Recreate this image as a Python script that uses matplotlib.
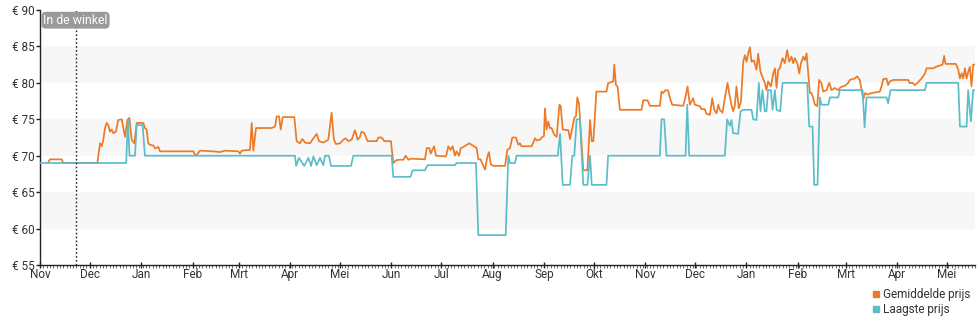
import numpy as np
import pandas as pd
import matplotlib
matplotlib.use("Agg")
import matplotlib.pyplot as plt
import matplotlib.dates as mdates
from matplotlib.lines import Line2D

plt.rcParams['font.family'] = ['Roboto', 'DejaVu Sans']

# day offsets from 1 Nov 2022 and prices in euro
start = pd.Timestamp('2022-11-01')

gem_dagen = [5, 6, 13.1, 14.1, 34.6, 36.2, 37.2, 38.2, 39.2, 40.2, 41.2, 42.2, 43.2, 44.2, 45.8,
             47.2, 49.3, 50.3, 51.3, 52.7, 53.9, 55.3, 56.9, 58.3, 62.3, 63.3, 64.3, 65.3, 66.3,
             68.4, 69.4, 71.4, 72.4, 92.5, 93.5, 94.5, 96.5, 104.5, 108.6, 111.6, 119.6, 120.6,
             121.7, 126.7, 127.7, 128.7, 130.3, 139.7, 141.8, 142.8, 144.2, 145.2, 146.4, 153.4,
             154.8, 156.8, 158.2, 159.9, 162.9, 164.3, 166.9, 168.3, 170.9, 173.9, 175.9, 177.3,
             178.5, 181.0, 183.0, 184.4, 186.0, 188.0, 190.0, 191.6, 193.0, 194.0, 195.6, 197.6,
             203.1, 204.1, 206.1, 207.7, 211.7, 213.1, 215.1, 217.1, 219.2, 220.6, 222.2, 224.2,
             232.2, 233.3, 234.9, 235.7, 237.7, 238.9, 244.9, 246.3, 247.7, 248.9, 250.3, 251.3,
             252.8, 253.8, 255.4, 257.4, 259.0, 260.4, 262.4, 263.4, 264.4, 265.8, 267.0, 268.4,
             269.8, 270.8, 271.9, 273.5, 280.5, 281.9, 283.5, 284.9, 287.1, 288.5, 289.5, 290.5,
             296.6, 298.6, 299.6, 301.6, 302.6, 304.0, 304.6, 305.6, 306.6, 307.6, 308.6, 310.1,
             311.7, 313.3, 314.1, 315.3, 318.7, 319.7, 321.1, 322.3, 323.3, 324.1, 325.1, 326.7,
             327.7, 330.2, 331.8, 332.8, 333.8, 335.6, 341.7, 342.7, 345.8, 346.4, 347.4, 348.4,
             349.8, 362.8, 363.9, 366.5, 367.9, 373.9, 374.9, 375.9, 377.3, 378.9, 379.9, 381.3,
             388.0, 389.4, 390.6, 392.0, 394.0, 395.0, 398.0, 399.0, 401.0, 402.0, 404.1, 405.5,
             406.7, 408.1, 409.1, 410.1, 411.7, 413.1, 414.7, 415.7, 417.1, 418.1, 419.1, 420.1,
             421.5, 422.8, 424.2, 425.2, 426.2, 427.2, 428.2, 429.2, 430.6, 432.2, 433.2, 434.6,
             435.6, 437.2, 438.2, 439.2, 440.9, 442.3, 443.3, 444.3, 445.3, 446.3, 447.9, 449.3,
             450.7, 451.9, 453.3, 454.3, 455.3, 456.8, 458.0, 459.0, 460.4, 461.4, 462.4, 463.4,
             464.4, 465.4, 466.4, 467.4, 468.8, 470.0, 471.4, 472.4, 474.4, 476.1, 477.5, 479.5,
             481.5, 482.9, 485.5, 487.5, 488.5, 491.5, 492.9, 494.5, 495.6, 496.6, 497.6, 499.0,
             501.6, 506.6, 507.6, 508.6, 510.6, 511.6, 512.6, 514.7, 523.7, 524.7, 526.3, 527.7,
             529.1, 531.7, 532.7, 533.8, 534.8, 538.8, 540.4, 544.4, 545.4, 546.2, 552.5, 553.9,
             554.9, 555.9, 556.9, 557.9, 558.9, 559.9, 560.9, 561.9, 562.9, 565]
gem_prijs = [69.1, 69.5, 69.5, 69.0, 69.0, 71.7, 71.3, 72.2, 73.8, 74.5, 74.2, 73.3, 73.6, 73.1, 73.3,
             74.9, 75.0, 73.8, 72.6, 74.9, 75.2, 72.2, 71.7, 74.5, 74.5, 73.8, 73.6, 71.7, 71.5,
             71.4, 71.0, 71.2, 70.6, 70.6, 70.1, 70.1, 70.7, 70.6, 70.5, 70.7, 70.6, 70.3,
             70.7, 70.8, 74.5, 70.7, 73.8, 73.8, 74.0, 75.4, 75.4, 73.6, 75.3, 75.3,
             72.0, 71.7, 72.3, 71.8, 71.7, 72.2, 73.0, 72.0, 71.8, 72.2, 75.9, 72.2,
             71.6, 71.7, 72.2, 72.4, 72.0, 72.2, 73.5, 72.2, 72.6, 73.3, 73.1, 72.0,
             72.0, 72.5, 72.5, 72.0, 72.0, 69.0, 69.4, 69.45, 69.45, 70.0, 69.45, 69.6,
             69.5, 71.05, 71.05, 70.3, 71.3, 70.0, 69.9, 71.3, 70.8, 71.3, 70.0, 70.6,
             70.0, 71.05, 71.2, 71.5, 71.7, 71.5, 71.2, 71.05, 69.5, 69.5, 68.8, 68.1,
             69.8, 70.5, 68.8, 68.6, 68.6, 70.8, 71.05, 72.5, 72.5, 71.5, 71.7, 71.3,
             71.3, 72.4, 72.1, 72.2, 72.5, 72.7, 76.5, 73.6, 74.7, 73.8, 73.8, 72.9,
             72.6, 77.0, 76.8, 73.6, 73.5, 72.3, 73.8, 75.2, 75.4, 78.0, 77.2, 71.7,
             68.0, 68.0, 74.9, 72.0, 72.0, 78.8, 78.8, 79.95, 80.2, 82.5, 79.7, 79.5,
             76.3, 76.3, 77.6, 77.6, 76.85, 76.85, 78.8, 78.6, 79.0, 78.95, 78.0, 77.0,
             76.85, 78.1, 79.5, 77.0, 77.9, 77.0, 76.8, 76.4, 76.4, 75.75, 75.6, 77.9,
             76.3, 75.8, 77.0, 76.3, 75.9, 77.9, 80.0, 78.6, 77.0, 76.1, 76.8, 79.5,
             76.5, 77.4, 82.9, 83.8, 82.9, 84.05, 84.9, 82.9, 83.1, 81.8, 84.0, 81.5,
             80.9, 80.0, 79.0, 80.2, 79.5, 81.3, 82.0, 79.3, 81.8, 82.0, 83.4, 82.7,
             84.5, 82.9, 83.6, 82.7, 83.4, 82.7, 81.3, 82.7, 83.6, 83.1, 84.05, 81.3,
             78.6, 78.6, 77.9, 77.0, 76.8, 80.4, 79.95, 78.8, 79.0, 80.0, 79.0, 79.3,
             79.0, 79.4, 79.6, 80.0, 80.4, 80.6, 80.9, 80.4, 79.0, 77.7, 78.6, 78.4,
             78.6, 78.8, 79.5, 80.5, 80.6, 79.7, 80.2, 80.4, 80.4, 79.95, 80.0, 79.7,
             79.95, 80.6, 80.9, 81.3, 82.0, 82.0, 82.2, 82.5, 83.7, 82.6, 82.6, 81.8,
             80.6, 81.3, 80.6, 82.0, 80.6, 81.5, 82.2, 79.5, 82.5, 82.5]

laag_dagen = [0, 52, 53, 54, 57.3, 58.3, 61.9, 63.3, 153.8, 154.5, 156.2, 159.4, 161.9, 163.5, 164.9,
              166.9, 168.9, 170.9, 171.9, 174.3, 175.5, 187.6, 189.0, 212.1, 213.1, 223.5, 224.8,
              232.2, 233.7, 250.3, 251.3, 263.0, 264.4, 280.9, 282.5, 283.5, 286.5, 287.5, 312.3,
              313.7, 315.3, 319.7, 321.1, 322.3, 323.7, 325.7, 327.7, 330.2, 331.8, 332.8, 341.7,
              342.7, 373.9, 374.9, 376.5, 377.9, 389.4, 390.4, 391.6, 413.1, 414.5, 416.1, 417.1,
              418.1, 421.1, 422.6, 424.2, 429.2, 430.2, 432.2, 433.6, 434.6, 435.8, 437.2, 438.2,
              439.2, 440.9, 441.9, 443.3, 444.3, 446.5, 447.9, 462.8, 464.0, 466.0, 467.0, 469.0,
              470.4, 471.4, 475.5, 476.5, 481.5, 482.5, 496.2, 497.4, 498.6, 510.6, 511.6, 513.0,
              533.8, 534.8, 553.9, 554.9, 558.9, 559.9, 561.5, 562.9, 565]
laag_prijs = [69.0, 69.0, 75.0, 70.0, 70.0, 74.2, 74.2, 70.0, 70.0, 68.6, 69.7, 68.6, 69.7, 68.6, 69.9,
              68.7, 69.7, 68.7, 70.0, 70.0, 68.6, 68.6, 70.0, 70.0, 67.1, 67.1, 68.0,
              68.0, 68.7, 68.7, 69.0, 69.0, 59.1, 59.1, 70.0, 69.0, 69.0, 70.0, 70.0,
              73.0, 66.0, 66.0, 70.0, 70.0, 75.0, 75.0, 66.0, 66.0, 70.0, 66.0, 66.0,
              70.0, 70.0, 75.0, 75.0, 70.0, 70.0, 77.0, 70.0, 70.0, 75.0, 74.1, 74.9,
              73.1, 73.0, 76.1, 76.3, 76.3, 75.0, 74.9, 80.0, 76.1, 79.0, 76.1, 76.1,
              79.0, 79.0, 76.3, 79.0, 76.3, 76.1, 80.0, 80.0, 74.0, 74.0, 66.0, 66.0,
              78.0, 77.0, 77.0, 78.0, 78.0, 79.0, 79.0, 73.9, 78.0, 78.0, 77.2, 79.0,
              79.0, 80.0, 80.0, 74.0, 74.0, 79.0, 74.7, 79.0, 79.0]

winkel_dag = 21.7
maanden = ['Jan', 'Feb', 'Mrt', 'Apr', 'Mei', 'Jun', 'Jul', 'Aug', 'Sep', 'Okt', 'Nov', 'Dec']

oranje = '#ec7a26'
blauw = '#5bbdc9'


def naar_datum(dagen):
    return start + pd.to_timedelta(np.array(dagen, dtype=float), unit='D')


fig = plt.figure(figsize=(9.8, 3.25), dpi=100)
ax = fig.add_axes([40 / 980, 1 - 265 / 325, 935 / 980, 255 / 325])

# light bands
for lo in (60, 70, 80):
    ax.axhspan(lo, lo + 5, color='#f7f7f7', lw=0, zorder=0)

ax.plot(naar_datum(gem_dagen), gem_prijs, color=oranje, lw=1.25, zorder=3)
ax.plot(naar_datum(laag_dagen), laag_prijs, color=blauw, lw=1.25, zorder=4)

wd = naar_datum([winkel_dag])[0]
ax.axvline(wd, color='#222222', lw=1, ls=(0, (1.2, 1.6)), zorder=5)
ax.text(naar_datum([2])[0], 88.6, 'In de winkel', color='white', fontsize=8.8, va='center', ha='left',
        zorder=6, bbox=dict(boxstyle='round,pad=0.1,rounding_size=0.3', fc='#9a9a9a', ec='#9a9a9a'))

ax.set_xlim(naar_datum([0])[0], naar_datum([564])[0])
ax.set_ylim(55, 90)
ax.set_yticks(np.arange(55, 91, 5))
ax.yaxis.set_major_formatter(plt.FuncFormatter(lambda v, p: f'€ {v:.0f}'))
ax.xaxis.set_major_locator(mdates.MonthLocator())
ax.xaxis.set_minor_locator(mdates.DayLocator(interval=2))
ax.xaxis.set_major_formatter(plt.FuncFormatter(lambda v, p: maanden[mdates.num2date(v).month - 1]))

for s in ('top', 'right'):
    ax.spines[s].set_visible(False)
for s in ('left', 'bottom'):
    ax.spines[s].set_color('#222222')
    ax.spines[s].set_linewidth(1)
ax.tick_params(axis='y', direction='out', length=3, width=1, color='#222222', labelsize=8.5,
               labelcolor='#333333', pad=1)
ax.tick_params(axis='x', which='major', direction='inout', length=5, width=1, color='#222222',
               labelsize=8.5, labelcolor='#333333', pad=0)
ax.tick_params(axis='x', which='minor', direction='out', length=2, width=0.6, color='#555555')
ax.set_facecolor('white')

handles = [Line2D([], [], ls='none', marker='s', ms=5, color=oranje),
           Line2D([], [], ls='none', marker='s', ms=5, color=blauw)]
fig.legend(handles, ['Gemiddelde prijs', 'Laagste prijs'], loc='upper left',
           bbox_to_anchor=(872 / 980, 1 - 288 / 325), frameon=False, fontsize=8.5,
           handlelength=0.6, handletextpad=0.3, labelspacing=0.15, borderpad=0, borderaxespad=0,
           labelcolor='#333333')

fig.savefig('out.png', dpi=100)
